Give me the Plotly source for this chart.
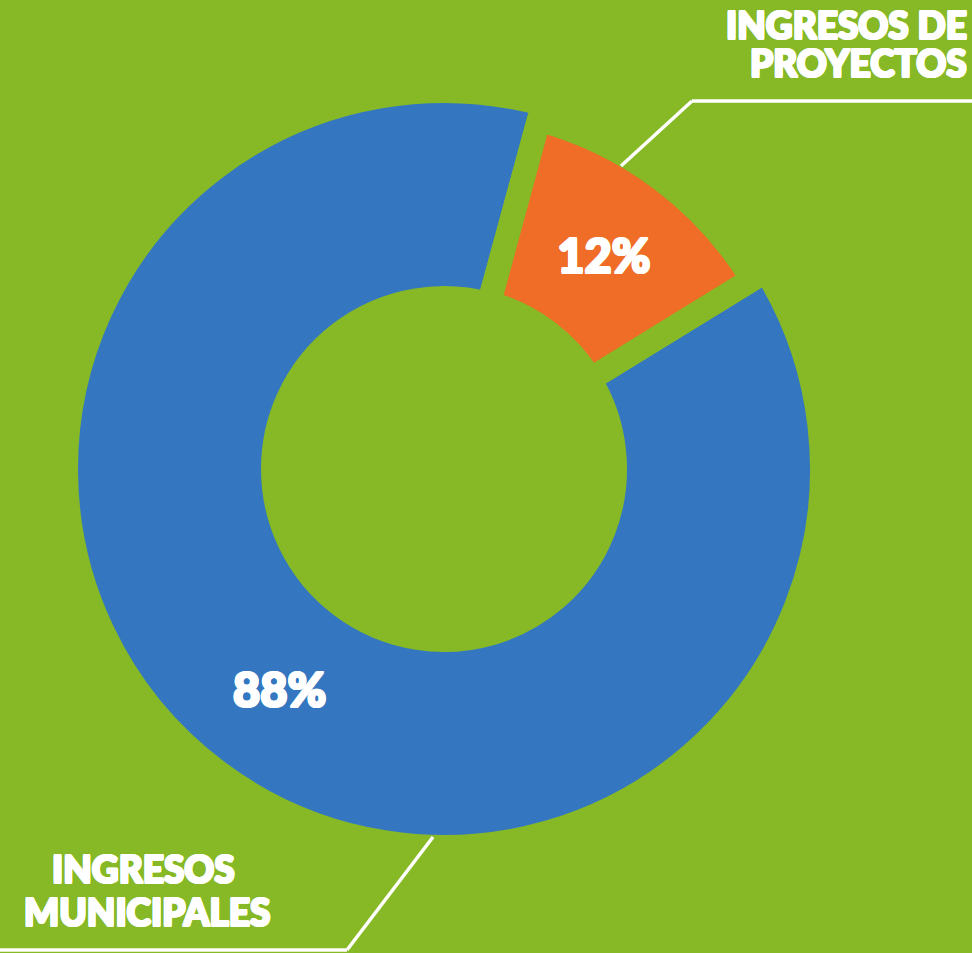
import plotly.graph_objects as go

# ---- data ----
categories = ["INGRESOS DE PROYECTOS", "INGRESOS MUNICIPALES"]
values = [12, 88]
label_lines = [["INGRESOS DE", "PROYECTOS"], ["INGRESOS", "MUNICIPALES"]]

# ---- style ----
W, H = 972, 953
BG = "#86b925"
BLUE = "#3477c0"
ORANGE = "#ef6d27"
TRANSP = "rgba(0,0,0,0)"
FONT = "Lato, 'DejaVu Sans', sans-serif"
GAP = 24            # gap width between slices (background-coloured stroke)
CX, CY = 444, 469   # donut centre in px
ROTATION = 15.2
HEAVY = ("1px 0 0 white, -1px 0 0 white, 0 1px 0 white, 0 -1px 0 white, "
         "1px 1px 0 white, -1px -1px 0 white, 1px -1px 0 white, -1px 1px 0 white")


def px(x, y):
    return x / W, 1 - y / H


def domain(r_path):
    return dict(x=[(CX - r_path) / W, (CX + r_path) / W],
                y=[1 - (CY + r_path) / H, 1 - (CY - r_path) / H])


pct_text = ["%{percent:.0%}"] * len(values)
pie_font = dict(family=FONT, size=47, color="white", weight=900, shadow=HEAVY)

fig = go.Figure()

# blue ring (municipal)
r_blue_out, r_blue_in = 366 + GAP / 2, 183 - GAP / 2
fig.add_trace(go.Pie(
    labels=categories, values=values, sort=False, direction="clockwise",
    rotation=ROTATION, hole=r_blue_in / r_blue_out, domain=domain(r_blue_out),
    marker=dict(colors=[TRANSP, BLUE],
                line=dict(color=[BG, BG], width=[0, GAP])),
    texttemplate=["", pct_text[1]], textposition="inside",
    insidetextorientation="horizontal", textfont=pie_font,
    hoverinfo="skip", showlegend=False,
))

# orange ring (projects), slightly smaller outer radius
r_or_out, r_or_in = 350 + GAP / 2, 184 - GAP / 2
fig.add_trace(go.Pie(
    labels=categories, values=values, sort=False, direction="clockwise",
    rotation=ROTATION, hole=r_or_in / r_or_out, domain=domain(r_or_out),
    marker=dict(colors=[ORANGE, TRANSP],
                line=dict(color=[BG, BG], width=[GAP, 0])),
    texttemplate=[pct_text[0], ""], textposition="inside",
    insidetextorientation="horizontal", textfont=pie_font,
    hoverinfo="skip", showlegend=False,
))

# leader lines
line_style = dict(color="white", width=3.5)
top_pts = [(621, 166), (692, 101), (972, 101)]
bot_pts = [(433, 837), (347, 950), (0, 950)]
for pts in (top_pts, bot_pts):
    for (x0, y0), (x1, y1) in zip(pts[:-1], pts[1:]):
        a, b = px(x0, y0)
        c, d = px(x1, y1)
        fig.add_shape(type="line", xref="paper", yref="paper",
                      x0=a, y0=b, x1=c, y1=d, line=line_style, layer="above")

# labels
ann_font = dict(family=FONT, size=37, color="white", weight=900, shadow=HEAVY)
label_pos = [
    [(969, 24, "right"), (969, 62, "right")],
    [(143, 868, "center"), (147, 911, "center")],
]
for lines, poss in zip(label_lines, label_pos):
    for txt, (x, y, anchor) in zip(lines, poss):
        a, b = px(x, y)
        fig.add_annotation(text=txt, x=a, y=b, xref="paper", yref="paper",
                           xanchor=anchor, yanchor="middle", showarrow=False,
                           font=ann_font)

fig.update_layout(
    width=W, height=H, margin=dict(l=0, r=0, t=0, b=0),
    paper_bgcolor=BG, plot_bgcolor=BG,
)

fig.write_html(
    "out.html",
    config={"displayModeBar": False},
    post_script="document.body.style.margin='0';document.body.style.background='%s';" % BG,
)
